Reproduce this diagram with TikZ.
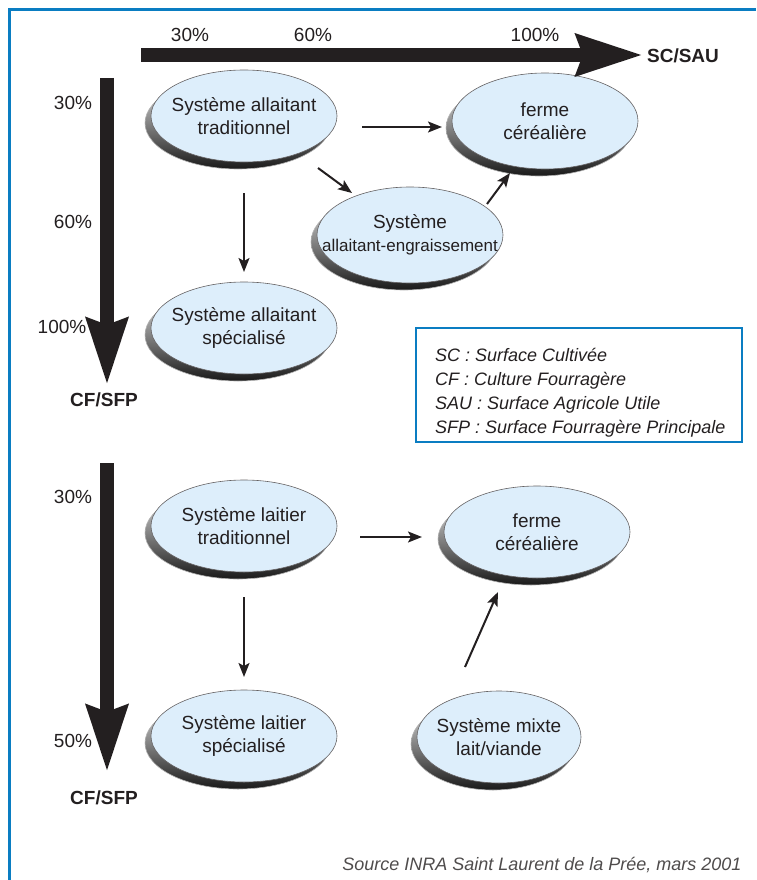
\documentclass[tikz,border=0pt]{standalone}
\usepackage{fontspec}
\setmainfont{Liberation Sans}
\usetikzlibrary{arrows.meta,shapes.geometric,shadows}
\definecolor{frameblue}{HTML}{0A7DC2}
\definecolor{ellblue}{HTML}{DDEEFB}
\definecolor{ink}{HTML}{231F20}
\begin{document}
\begin{tikzpicture}[x=1pt,y=-1pt,
            sys/.style={ellipse, draw=ink!70, line width=0.6pt, fill=ellblue, minimum width=186pt, minimum height=92pt, inner xsep=-40pt, inner ysep=-20pt, align=center, text=ink, font=\fontsize{19}{23}\selectfont,
              general shadow={shadow xshift=-6pt, shadow yshift=-7pt, draw=gray!60, top color=gray!15, bottom color=black!90}},
            pct/.style={text=ink, font=\fontsize{19}{23}\selectfont},
            axis/.style={text=ink, font=\bfseries\fontsize{19}{23}\selectfont},
            legline/.style={anchor=base west, inner sep=0pt, text=ink, font=\itshape\fontsize{18}{24}\selectfont},
            big/.style={draw=ink, line width=14pt, -{Stealth[length=66pt, width=40pt, inset=6pt]}},
            link/.style={draw=ink, line width=2pt, -{Stealth[length=14pt, width=11pt, inset=3pt]}}
            ]
            \useasboundingbox (0,0) rectangle (756,880);
            \draw[frameblue, line width=3pt] (9,880) -- (9,10) -- (756,10);

            \node[pct] (h30) at (190,35) {30\%};
            \node[pct] (h60) at (313,35) {60\%};
            \node[pct] (h100) at (535,35) {100\%};
            \node[axis] (scsau) at (683,56) {SC/SAU};
            \coordinate (hs) at (141,55);
            \coordinate (he) at (643,55);

            \node[pct] (a30) at (73,103) {30\%};
            \node[pct] (a60) at (73,222) {60\%};
            \node[pct] (a100) at (62,327) {100\%};
            \node[axis] (cfa) at (104,400) {CF/SFP};
            \coordinate (as) at (107,78);
            \coordinate (ae) at (107,385);

            \node[pct] (b30) at (73,497) {30\%};
            \node[pct] (b50) at (73,741) {50\%};
            \node[axis] (cfb) at (104,798) {CF/SFP};
            \coordinate (bs) at (107,463);
            \coordinate (be) at (107,772);

            \node[sys] (sat) at (244,116) {Système allaitant\\traditionnel};
            \node[sys, minimum height=96pt] (fc1) at (545,121) {ferme\\céréalière};
            \node[sys, minimum height=96pt] (sae) at (410,235) {Système\\{\fontsize{17}{21}\selectfont allaitant-engraissement}};
            \node[sys] (sas) at (244,328) {Système allaitant\\spécialisé};

            \node[sys] (slt) at (244,526) {Système laitier\\traditionnel};
            \node[sys] (fc2) at (537,532) {ferme\\céréalière};
            \node[sys] (sls) at (244,736) {Système laitier\\spécialisé};
            \node[sys, minimum width=164pt] (smx) at (499,737) {Système mixte\\lait/viande};

            \node[draw=frameblue, line width=2pt, minimum width=326pt, minimum height=114pt, anchor=north west] (legbox) at (415,327) {};
            \node[legline] (leg1) at ([shift={(20,34)}]legbox.north west) {SC : Surface Cultivée};
            \node[legline] (leg2) at ([shift={(20,58)}]legbox.north west) {CF : Culture Fourragère};
            \node[legline] (leg3) at ([shift={(20,82)}]legbox.north west) {SAU : Surface Agricole Utile};
            \node[legline] (leg4) at ([shift={(20,106)}]legbox.north west) {SFP : Surface Fourragère Principale};

            \node[anchor=base east, text=ink!80, font=\itshape\fontsize{18}{22}\selectfont] (src) at (745,870)
                  {Source INRA Saint Laurent de la Prée, mars 2001};

            \draw[big] (hs) -- (he);
            \draw[big] (as) -- (ae);
            \draw[big] (bs) -- (be);

            \draw[link] ([shift={(118,11)}]sat.center) -- ([shift={(-103,6)}]fc1.center);
            \draw[link] ([shift={(74,52)}]sat.center) -- ([shift={(-58,-42)}]sae.center);
            \draw[link] ([shift={(0,77)}]sat.center) -- ([shift={(0,-56)}]sas.center);
            \draw[link] ([shift={(77,-31)}]sae.center) -- ([shift={(-35,52)}]fc1.center);

            \draw[link] ([shift={(116,11)}]slt.center) -- ([shift={(-115,5)}]fc2.center);
            \draw[link] ([shift={(0,71)}]slt.center) -- ([shift={(0,-59)}]sls.center);
            \draw[link] ([shift={(-34,-70)}]smx.center) -- ([shift={(-39,60)}]fc2.center);
\end{tikzpicture}
\end{document}
